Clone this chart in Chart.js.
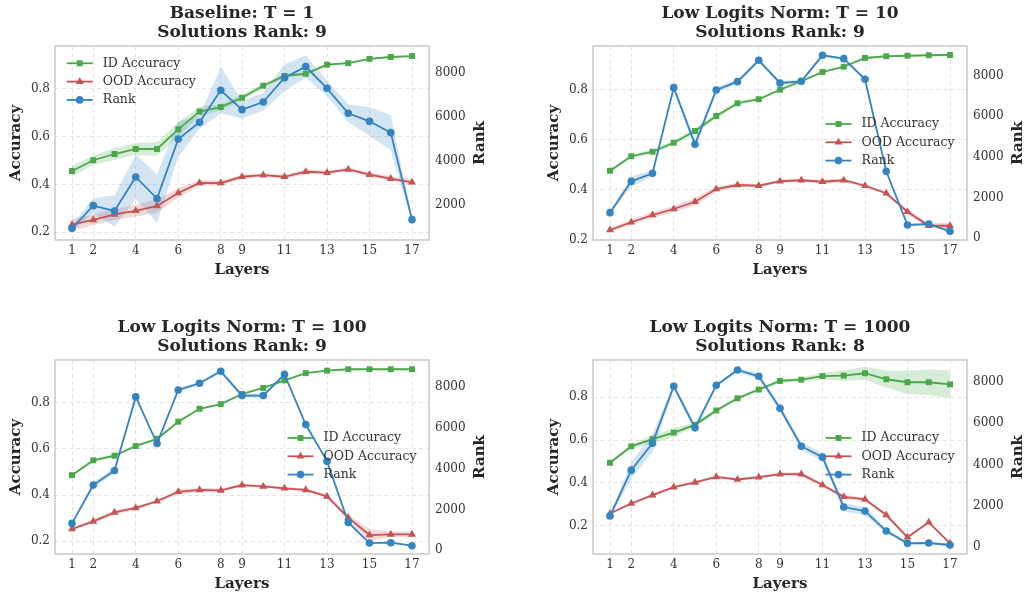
<!DOCTYPE html>
<html>
<head>
<meta charset="utf-8">
<script src="https://cdn.jsdelivr.net/npm/chart.js@4.4.1/dist/chart.umd.min.js"></script>
<style>
html, body { margin: 0; padding: 0; background: #fff; overflow: hidden; }
body { width: 1026px; height: 599px; position: relative; }
.panel { position: absolute; width: 486px; height: 290px; }
</style>
</head>
<body>
<div class="panel" style="left:0;top:0"><canvas id="c1" width="486" height="290"></canvas></div>
<div class="panel" style="left:538px;top:0"><canvas id="c2" width="486" height="290"></canvas></div>
<div class="panel" style="left:0;top:314px"><canvas id="c3" width="486" height="290"></canvas></div>
<div class="panel" style="left:538px;top:314px"><canvas id="c4" width="486" height="290"></canvas></div>
<script>
// shared axes
const layers = [1, 2, 3, 4, 5, 6, 7, 8, 9, 10, 11, 12, 13, 14, 15, 16, 17];
const layerTicks = [1, 2, 4, 6, 8, 9, 11, 13, 15, 17];
const accTicks = [0.2, 0.4, 0.6, 0.8];
const rankTicks = [0, 2000, 4000, 6000, 8000];

// Baseline: T = 1
const baseId = [0.456, 0.501, 0.527, 0.548, 0.548, 0.630, 0.704, 0.723, 0.762, 0.812, 0.853, 0.862, 0.900, 0.906, 0.924, 0.932, 0.936];
const baseIdStd = [0.022, 0.02, 0.025, 0.025, 0.028, 0.03, 0.02, 0.012, 0.012, 0.01, 0.008, 0.006, 0.005, 0.004, 0.004, 0.004, 0.004];
const baseOod = [0.232, 0.252, 0.275, 0.290, 0.310, 0.364, 0.406, 0.406, 0.432, 0.439, 0.432, 0.453, 0.449, 0.463, 0.441, 0.424, 0.409];
const baseOodStd = [0.025, 0.022, 0.022, 0.025, 0.028, 0.02, 0.012, 0.01, 0.008, 0.008, 0.008, 0.01, 0.008, 0.008, 0.01, 0.01, 0.012];
const baseRank = [960, 1985, 1744, 3281, 2301, 4999, 5752, 7199, 6325, 6672, 7772, 8269, 7290, 6159, 5798, 5285, 1352];
const baseRankStd = [150, 350, 700, 1000, 1100, 800, 300, 1050, 400, 400, 600, 500, 350, 400, 650, 800, 100];

// Low Logits Norm: T = 10
const t10Id = [0.477, 0.535, 0.553, 0.589, 0.636, 0.696, 0.747, 0.763, 0.801, 0.835, 0.872, 0.893, 0.928, 0.935, 0.937, 0.939, 0.940];
const t10IdStd = [0.006, 0.008, 0.008, 0.01, 0.012, 0.01, 0.008, 0.006, 0.006, 0.006, 0.005, 0.005, 0.004, 0.003, 0.003, 0.003, 0.003];
const t10Ood = [0.240, 0.271, 0.300, 0.324, 0.353, 0.404, 0.420, 0.417, 0.435, 0.439, 0.433, 0.439, 0.417, 0.387, 0.313, 0.257, 0.257];
const t10OodStd = [0.008, 0.01, 0.012, 0.012, 0.016, 0.01, 0.008, 0.006, 0.006, 0.006, 0.008, 0.008, 0.006, 0.006, 0.01, 0.01, 0.012];
const t10Rank = [1249, 2793, 3187, 7410, 4617, 7295, 7706, 8757, 7640, 7722, 9004, 8839, 7821, 3286, 641, 690, 329];
const t10RankStd = [80, 250, 150, 120, 250, 150, 100, 80, 100, 80, 60, 60, 80, 80, 60, 60, 60];

// Low Logits Norm: T = 100
const t100Id = [0.486, 0.550, 0.570, 0.612, 0.643, 0.717, 0.773, 0.793, 0.837, 0.863, 0.896, 0.927, 0.938, 0.944, 0.944, 0.944, 0.944];
const t100IdStd = [0.005, 0.008, 0.006, 0.005, 0.006, 0.006, 0.005, 0.005, 0.005, 0.004, 0.004, 0.003, 0.003, 0.003, 0.003, 0.003, 0.003];
const t100Ood = [0.253, 0.286, 0.325, 0.344, 0.373, 0.414, 0.422, 0.420, 0.443, 0.437, 0.429, 0.422, 0.394, 0.302, 0.227, 0.230, 0.230];
const t100OodStd = [0.006, 0.008, 0.01, 0.008, 0.008, 0.01, 0.01, 0.008, 0.006, 0.006, 0.006, 0.006, 0.008, 0.012, 0.025, 0.012, 0.012];
const t100Rank = [1320, 3193, 3910, 7510, 5229, 7852, 8178, 8764, 7575, 7575, 8617, 6158, 4366, 1368, 358, 375, 228];
const t100RankStd = [60, 150, 120, 80, 100, 100, 80, 100, 100, 100, 60, 60, 60, 60, 40, 40, 40];

// Low Logits Norm: T = 1000
const t1000Id = [0.494, 0.571, 0.604, 0.635, 0.671, 0.738, 0.795, 0.836, 0.876, 0.882, 0.899, 0.901, 0.912, 0.884, 0.870, 0.870, 0.860];
const t1000IdStd = [0.006, 0.01, 0.02, 0.02, 0.012, 0.01, 0.008, 0.008, 0.008, 0.01, 0.015, 0.025, 0.03, 0.04, 0.055, 0.06, 0.065];
const t1000Ood = [0.257, 0.304, 0.343, 0.380, 0.402, 0.428, 0.416, 0.427, 0.441, 0.441, 0.390, 0.335, 0.323, 0.250, 0.146, 0.216, 0.118];
const t1000OodStd = [0.006, 0.006, 0.006, 0.006, 0.006, 0.006, 0.006, 0.006, 0.008, 0.01, 0.008, 0.01, 0.008, 0.008, 0.006, 0.006, 0.006];
const t1000Rank = [1500, 3726, 5033, 7791, 5775, 7839, 8581, 8275, 6726, 4887, 4355, 1936, 1742, 774, 177, 194, 97];
const t1000RankStd = [80, 400, 450, 150, 200, 80, 100, 150, 150, 200, 200, 200, 200, 100, 60, 60, 60];

const GREEN = '#4aa84a', RED = '#c65453', BLUE = '#3584c2';
const FONT = '"DejaVu Serif", serif';

function xy(vals) { return layers.map((x, i) => ({ x: x, y: vals[i] })); }

function band(mean, std, color, axis, order) {
    return [
        { data: layers.map((x, i) => ({ x: x, y: mean[i] - std[i] })), yAxisID: axis, borderWidth: 0, pointRadius: 0, fill: false, order: order },
        { data: layers.map((x, i) => ({ x: x, y: mean[i] + std[i] })), yAxisID: axis, borderWidth: 0, pointRadius: 0,
          backgroundColor: color + '38', fill: '-1', order: order }
    ];
}

function line(label, vals, color, style, radius, axis, order) {
    return { label: label, data: xy(vals), borderColor: color, backgroundColor: color, borderWidth: 1.8,
             pointStyle: style, pointRadius: radius, pointBorderWidth: 0, pointHoverRadius: radius,
             yAxisID: axis, order: order, tension: 0 };
}

function marker(ctx, style, x, y, r) {
    ctx.beginPath();
    if (style === 'rect') {
        const s = r * Math.SQRT1_2;
        ctx.rect(x - s, y - s, 2 * s, 2 * s);
    } else if (style === 'triangle') {
        ctx.moveTo(x, y - r);
        ctx.lineTo(x + r * 0.866, y + r * 0.5);
        ctx.lineTo(x - r * 0.866, y + r * 0.5);
        ctx.closePath();
    } else {
        ctx.arc(x, y, r, 0, Math.PI * 2);
    }
    ctx.fill();
}

// plot frame, in-plot legend and the right axis label (reads bottom to top)
const extras = {
    id: 'extras',
    afterDraw(chart, args, opts) {
        const { ctx, chartArea: a } = chart;
        ctx.save();
        ctx.strokeStyle = '#cccccc';
        ctx.lineWidth = 1.6;
        ctx.strokeRect(a.left, a.top, a.right - a.left, a.bottom - a.top);

        ctx.font = '12.5px ' + FONT;
        ctx.textBaseline = 'middle';
        chart.data.datasets.filter(d => d.label).forEach((d, i) => {
            const x = a.left + opts.legendX, y = a.top + opts.legendY + i * 18.3;
            ctx.strokeStyle = d.borderColor;
            ctx.lineWidth = d.borderWidth;
            ctx.beginPath(); ctx.moveTo(x, y); ctx.lineTo(x + 26, y); ctx.stroke();
            ctx.fillStyle = d.borderColor;
            marker(ctx, d.pointStyle, x + 13, y, d.pointRadius);
            ctx.fillStyle = '#333';
            ctx.fillText(d.label, x + 36, y);
        });

        ctx.translate(a.right + 51, (a.top + a.bottom) / 2);
        ctx.rotate(-Math.PI / 2);
        ctx.font = 'bold 15px ' + FONT;
        ctx.fillStyle = '#262626';
        ctx.textAlign = 'center';
        ctx.fillText('Rank', 0, 0);
        ctx.restore();
    }
};

function setTicks(list) {
    return scale => { scale.ticks = list.filter(v => v >= scale.min && v <= scale.max).map(v => ({ value: v })); };
}

function makeChart(id, title, id_, idStd, ood, oodStd, rank, rankStd, accRange, rankRange, legendPos) {
    const grid = { color: '#e4e4e4', lineWidth: 1, drawTicks: false };
    new Chart(document.getElementById(id), {
        type: 'line',
        data: {
            datasets: [
                ...band(id_, idStd, GREEN, 'yAcc', 6),
                line('ID Accuracy', id_, GREEN, 'rect', 4.2, 'yAcc', 3),
                ...band(ood, oodStd, RED, 'yAcc', 5),
                line('OOD Accuracy', ood, RED, 'triangle', 4.6, 'yAcc', 2),
                ...band(rank, rankStd, BLUE, 'yRank', 4),
                line('Rank', rank, BLUE, 'circle', 3.8, 'yRank', 1)
            ]
        },
        options: {
            responsive: false,
            animation: false,
            layout: { padding: 0 },
            plugins: {
                legend: { display: false },
                tooltip: { enabled: false },
                title: {
                    display: true, text: title, fullSize: false, color: '#262626',
                    font: { family: FONT, size: 17, weight: 'bold', lineHeight: 1.12 },
                    padding: { top: 4, bottom: 3.9 }
                },
                extras: { legendX: legendPos[0], legendY: legendPos[1] }
            },
            scales: {
                x: {
                    type: 'linear', min: 0.2, max: 17.8,
                    afterBuildTicks: setTicks(layerTicks),
                    afterFit: s => { s.height = 50; },
                    grid: grid,
                    border: { display: false, dash: [4, 3] },
                    ticks: { font: { family: FONT, size: 12 }, color: '#333', padding: 3.5, maxRotation: 0 },
                    title: { display: true, text: 'Layers', color: '#262626',
                             font: { family: FONT, size: 15, weight: 'bold', lineHeight: 1.2 },
                             padding: { top: 0, bottom: 11 } }
                },
                yAcc: {
                    position: 'left', min: accRange[0], max: accRange[1],
                    afterBuildTicks: setTicks(accTicks),
                    afterFit: s => { s.width = 55; },
                    grid: grid,
                    border: { display: false, dash: [4, 3] },
                    ticks: { font: { family: FONT, size: 12 }, color: '#333', padding: 5,
                             callback: v => v.toFixed(1) },
                    title: { display: true, text: 'Accuracy', color: '#262626',
                             font: { family: FONT, size: 15, weight: 'bold', lineHeight: 1.2 },
                             padding: { top: 7, bottom: 0 } }
                },
                yRank: {
                    position: 'right', min: rankRange[0], max: rankRange[1],
                    afterBuildTicks: setTicks(rankTicks),
                    afterFit: s => { s.width = 57; },
                    grid: { drawOnChartArea: false, drawTicks: false },
                    border: { display: false },
                    ticks: { font: { family: FONT, size: 12 }, color: '#333', padding: 6,
                             callback: v => String(v) }
                }
            }
        },
        plugins: [extras]
    });
}

makeChart('c1', ['Baseline: T = 1', 'Solutions Rank: 9'], baseId, baseIdStd, baseOod, baseOodStd, baseRank, baseRankStd,
          [0.168, 0.978], [433, 9203], [11.7, 17.3]);
makeChart('c2', ['Low Logits Norm: T = 10', 'Solutions Rank: 9'], t10Id, t10IdStd, t10Ood, t10OodStd, t10Rank, t10RankStd,
          [0.2, 0.976], [-99, 9464], [232.5, 78]);
makeChart('c3', ['Low Logits Norm: T = 100', 'Solutions Rank: 9'], t100Id, t100IdStd, t100Ood, t100OodStd, t100Rank, t100RankStd,
          [0.145, 0.984], [-179, 9318], [232.5, 78]);
makeChart('c4', ['Low Logits Norm: T = 1000', 'Solutions Rank: 8'], t1000Id, t1000IdStd, t1000Ood, t1000OodStd, t1000Rank, t1000RankStd,
          [0.068, 0.974], [-339, 9065], [232.5, 78]);
</script>
</body>
</html>
